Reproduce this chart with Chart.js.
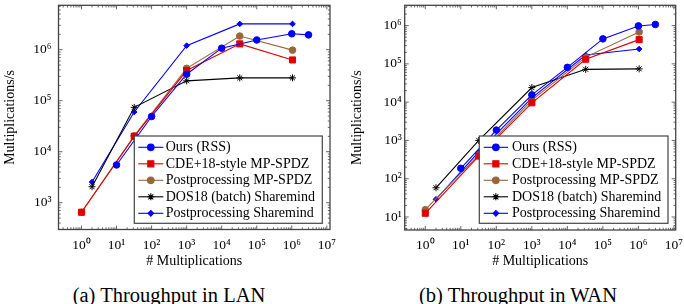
<!DOCTYPE html>
<html>
<head>
<meta charset="utf-8">
<script src="https://cdn.jsdelivr.net/npm/chart.js@4.4.0/dist/chart.umd.min.js"></script>
<style>
  html, body { margin: 0; padding: 0; background: #fff; }
  body { width: 684px; height: 304px; position: relative; overflow: hidden; font-family: "Liberation Serif", serif; }
  .panel { position: absolute; top: 0; width: 342px; height: 270px; }
  .caption { position: absolute; top: 282px; font-size: 20.5px; line-height: 26px; white-space: nowrap; transform: translateX(-50%); color: #000; }
</style>
</head>
<body>
<div class="panel" style="left:0"><canvas id="lan" width="342" height="270"></canvas></div>
<div class="panel" style="left:342px"><canvas id="wan" width="342" height="270"></canvas></div>
<div class="caption" style="left:169px">(a) Throughput in LAN</div>
<div class="caption" style="left:518px">(b) Throughput in WAN</div>

<script>
// series names, in drawing order
const seriesNames = ['Ours (RSS)', 'CDE+18-style MP-SPDZ', 'Postprocessing MP-SPDZ', 'DOS18 (batch) Sharemind', 'Postprocessing Sharemind'];

// number of multiplications (x)
const oursX = [10, 100, 1000, 10000, 100000, 1000000, 3000000];
const mpspdzX = [1, 32, 1000, 32768, 1048576];
const sharemindX = [2, 32, 1000, 32768, 1048576];

// LAN throughput (multiplications/s)
const lanOurs = [5500, 49000, 330000, 1070000, 1550000, 2050000, 1950000];
const lanCde = [650, 20000, 390000, 1300000, 630000];
const lanPostMp = [650, 20500, 430000, 1850000, 980000];
const lanDos = [2060, 74000, 245000, 280000, 280000];
const lanPostSm = [2550, 60000, 1200000, 3200000, 3200000];

// WAN throughput (multiplications/s)
const wanOurs = [187, 1860, 15500, 81000, 450000, 980000, 1070000];
const wanCde = [12.5, 390, 9600, 132000, 430000];
const wanPostMp = [15.5, 420, 11300, 150000, 680000];
const wanDos = [58, 1000, 24000, 72000, 74000];
const wanPostSm = [29, 500, 13000, 170000, 245000];

// tick values
const xTicks = [1, 10, 100, 1000, 1e4, 1e5, 1e6, 1e7];
const lanYTicks = [1e3, 1e4, 1e5, 1e6];
const wanYTicks = [1e1, 1e2, 1e3, 1e4, 1e5, 1e6];

const SUP = '⁰¹²³⁴⁵⁶⁷⁸⁹';
const powLabel = v => '10' + String(Math.round(Math.log10(v))).split('').map(d => SUP[+d]).join('');

const serif = '"Liberation Serif", serif';
const frameColor = '#444';

const styles = [
  { color: '#0000ff', fill: '#0000ff', pointStyle: 'circle', radius: 3.3 },
  { color: '#e00000', fill: '#e00000', pointStyle: 'rect', radius: 4.3 },
  { color: '#99663a', fill: '#99663a', pointStyle: 'circle', radius: 3.3 },
  { color: '#000000', fill: '#000000', pointStyle: 'star', radius: 3.5 },
  { color: '#0000ff', fill: '#0000ff', pointStyle: 'rectRot', radius: 2.8 },
];

const pairs = (xs, ys) => xs.map((x, i) => ({ x: x, y: ys[i] }));

function buildDatasets(series) {
  return series.map((pts, i) => ({
    label: seriesNames[i],
    data: pts,
    borderColor: styles[i].color,
    backgroundColor: styles[i].fill,
    pointBackgroundColor: styles[i].fill,
    pointBorderColor: styles[i].color,
    pointStyle: styles[i].pointStyle,
    pointRadius: styles[i].radius,
    pointBorderWidth: 1,
    borderWidth: 1.1,
    tension: 0,
    fill: false,
  }));
}

// box with ticks on all four sides, like pgfplots
const frameTicks = {
  id: 'frameTicks',
  afterDatasetsDraw(chart) {
    const { ctx, chartArea: a } = chart;
    const sx = chart.scales.x, sy = chart.scales.y;
    ctx.save();
    ctx.strokeStyle = frameColor;
    ctx.lineWidth = 0.8;
    const each = (scale, fn) => {
      const lo = Math.floor(Math.log10(scale.min)), hi = Math.ceil(Math.log10(scale.max));
      for (let e = lo; e <= hi; e++) {
        for (let m = 1; m <= 9; m++) {
          const v = m * Math.pow(10, e);
          if (v < scale.min || v > scale.max) continue;
          fn(scale.getPixelForValue(v), m === 1 ? 4 : 2.2);
        }
      }
    };
    ctx.beginPath();
    each(sx, (p, len) => {
      ctx.moveTo(p, a.bottom); ctx.lineTo(p, a.bottom - len);
      ctx.moveTo(p, a.top); ctx.lineTo(p, a.top + len);
    });
    each(sy, (p, len) => {
      ctx.moveTo(a.left, p); ctx.lineTo(a.left + len, p);
      ctx.moveTo(a.right, p); ctx.lineTo(a.right - len, p);
    });
    ctx.stroke();
    ctx.lineWidth = 1.3;
    ctx.strokeRect(a.left, a.top, a.right - a.left, a.bottom - a.top);
    ctx.restore();
  }
};

// legend drawn as a framed box inside the plot
const boxLegend = {
  id: 'boxLegend',
  afterDraw(chart, args, o) {
    const ctx = chart.ctx;
    ctx.save();
    ctx.fillStyle = '#fff';
    ctx.fillRect(o.x, o.y, o.w, o.h);
    ctx.strokeStyle = frameColor;
    ctx.lineWidth = 1.2;
    ctx.strokeRect(o.x, o.y, o.w, o.h);
    chart.data.datasets.forEach((ds, i) => {
      const cy = o.y + o.first + i * o.step;
      ctx.strokeStyle = ds.borderColor;
      ctx.lineWidth = ds.borderWidth;
      ctx.beginPath();
      ctx.moveTo(o.x + o.lineFrom, cy);
      ctx.lineTo(o.x + o.lineTo, cy);
      ctx.stroke();
      ctx.fillStyle = ds.pointBackgroundColor;
      Chart.helpers.drawPoint(ctx, {
        pointStyle: ds.pointStyle, radius: ds.pointRadius, borderWidth: ds.pointBorderWidth, rotation: 0
      }, o.x + (o.lineFrom + o.lineTo) / 2, cy);
      ctx.fillStyle = '#000';
      ctx.font = o.font;
      ctx.textBaseline = 'middle';
      ctx.textAlign = 'left';
      ctx.fillText(ds.label, o.x + o.textX, cy + 0.5);
    });
    ctx.restore();
  }
};

function makeChart(id, series, c) {
  return new Chart(document.getElementById(id), {
    type: 'line',
    data: { datasets: buildDatasets(series) },
    plugins: [frameTicks, boxLegend],
    options: {
      responsive: false,
      animation: false,
      layout: { padding: { left: 0, top: c.top, right: c.right, bottom: 0 } },
      plugins: {
        legend: { display: false },
        tooltip: { enabled: false },
        boxLegend: c.legend,
      },
      scales: {
        x: {
          type: 'logarithmic',
          position: 'bottom',
          min: c.xMin,
          max: c.xMax,
          grid: { display: false, drawTicks: false },
          border: { display: false },
          afterBuildTicks: s => { s.ticks = xTicks.map(v => ({ value: v })); },
          afterFit: s => { s.height = c.xHeight; s.paddingLeft = 0; s.paddingRight = 0; },
          ticks: {
            autoSkip: false, maxRotation: 0, padding: c.xPad, color: '#000',
            font: { family: serif, size: 13.5 },
            callback: v => powLabel(v),
          },
          title: {
            display: true, text: '# Multiplications', color: '#000',
            font: { family: serif, size: 14, lineHeight: 1.2 },
            padding: { top: 0, bottom: 0 },
          },
        },
        y: {
          type: 'logarithmic',
          position: 'left',
          min: c.yMin,
          max: c.yMax,
          grid: { display: false, drawTicks: false },
          border: { display: false },
          afterBuildTicks: s => { s.ticks = c.yTicks.map(v => ({ value: v })); },
          afterFit: s => { s.width = c.yWidth; s.paddingTop = 0; s.paddingBottom = 0; },
          ticks: {
            autoSkip: false, padding: c.yPad, color: '#000',
            font: { family: serif, size: 13.5 },
            callback: v => powLabel(v),
          },
          title: {
            display: true, text: 'Multiplications/s', color: '#000',
            font: { family: serif, size: 14, lineHeight: 1.2 },
            padding: { top: c.yTitlePad, bottom: 0 },
          },
        },
      },
    },
  });
}

makeChart('lan', [
  pairs(oursX, lanOurs),
  pairs(mpspdzX, lanCde),
  pairs(mpspdzX, lanPostMp),
  pairs(sharemindX, lanDos),
  pairs(sharemindX, lanPostSm),
], {
  top: 5.3, right: 12, xHeight: 40.5, yWidth: 58.5,
  xMin: Math.pow(10, -0.656), xMax: Math.pow(10, 7.09),
  yMin: Math.pow(10, 2.475), yMax: Math.pow(10, 6.87),
  yTicks: lanYTicks, xPad: 7.5, yPad: 7, yTitlePad: 1.8,
  legend: { x: 134.3, y: 136, w: 188, h: 87.3, first: 11.3, step: 16.5, lineFrom: 4, lineTo: 29, textX: 31.4, font: '14px ' + serif },
});

makeChart('wan', [
  pairs(oursX, wanOurs),
  pairs(mpspdzX, wanCde),
  pairs(mpspdzX, wanPostMp),
  pairs(sharemindX, wanDos),
  pairs(sharemindX, wanPostSm),
], {
  top: 5.3, right: 8.3, xHeight: 40, yWidth: 62.7,
  xMin: Math.pow(10, -0.58), xMax: Math.pow(10, 7.05),
  yMin: Math.pow(10, 0.66), yMax: Math.pow(10, 6.53),
  yTicks: wanYTicks, xPad: 7.5, yPad: 3, yTitlePad: 6.8,
  legend: { x: 137.3, y: 136, w: 188.7, h: 87.3, first: 11.3, step: 16.5, lineFrom: 4.4, lineTo: 28.7, textX: 32.7, font: '14px ' + serif },
});
</script>
</body>
</html>
